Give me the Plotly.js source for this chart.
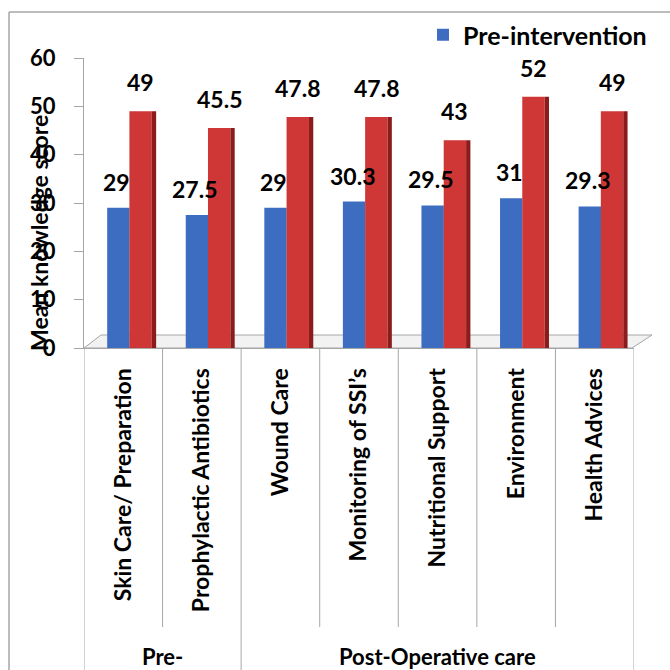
<!DOCTYPE html>
<html>
<head>
<meta charset="utf-8">
<script src="https://cdn.plot.ly/plotly-3.0.1.min.js"></script>
<style>
  html, body { margin: 0; padding: 0; background: #ffffff; }
  #chart { width: 670px; height: 670px; }
</style>
</head>
<body>
<div id="chart"></div>
<script>
// ---- data ----
const categories = ["Skin Care/ Preparation", "Prophylactic Antibiotics", "Wound Care",
  "Monitoring of SSI’s", "Nutritional Support", "Environment", "Health Advices"];
const groupLabels = ["Pre-", "Post-Operative care"];
const groupSpans = [[0, 1], [2, 6]];        // category index ranges of each group
const preValues = [29, 27.5, 29, 30.3, 29.5, 31, 29.3];
const postValues = [49, 45.5, 47.8, 47.8, 43, 52, 49];
const preName = "Pre-intervention";
const postName = "Post-intervention";
const yTickVals = [0, 10, 20, 30, 40, 50, 60];

// ---- layout geometry (pixels) ----
const W = 670, H = 670;
const L = 84, R = 36, T = 58, B = 322;
const plotW = W - L - R, plotH = H - T - B;
const px = x => (x - L) / plotW;           // pixel x -> paper
const py = y => (H - B - y) / plotH;       // pixel y -> paper
const catW = plotW / categories.length;

const FONT = "Lato, 'Open Sans', sans-serif";
const GRAY = "#a6a6a6";

const blueOff = -0.205, barW = 0.285, redOff = 0.078, sideW = 0.055;

const traces = [
  { type: "bar", name: preName, x: categories, y: preValues,
    offset: blueOff, width: barW,
    marker: { color: "#3c6dc0", line: { width: 0 } }, hoverinfo: "y" },
  { type: "bar", name: postName, x: categories, y: postValues,
    offset: redOff, width: barW, showlegend: false,
    marker: { color: "#cf3636", line: { width: 0 } }, hoverinfo: "y" },
  { type: "bar", name: postName + " side", x: categories, y: postValues,
    offset: redOff + barW, width: sideW, showlegend: false,
    marker: { color: "#8c1c1c", line: { width: 0 } }, hoverinfo: "skip" }
];

const annotations = [];
categories.forEach((c, i) => {
  annotations.push({ x: c, y: preValues[i], xref: "x", yref: "y", text: String(preValues[i]),
    showarrow: false, xshift: (blueOff + barW / 2) * catW - 2, yshift: 26, yanchor: "middle",
    font: { family: FONT, size: 23, color: "#000", weight: 700 } });
  annotations.push({ x: c, y: postValues[i], xref: "x", yref: "y", text: String(postValues[i]),
    showarrow: false, xshift: (redOff + barW / 2) * catW, yshift: 29, yanchor: "middle",
    font: { family: FONT, size: 23, color: "#000", weight: 700 } });
});
// group labels
groupLabels.forEach((g, k) => {
  const a = groupSpans[k][0] - 0.5, b = groupSpans[k][1] + 0.5;
  annotations.push({ x: (a + b) / 2, xref: "x", y: py(656), yref: "paper", text: g,
    showarrow: false, yanchor: "middle", xanchor: "center",
    font: { family: FONT, size: 22, color: "#000", weight: 700 } });
});
// y title (overlapping tick labels as in the original)
annotations.push({ x: px(39), y: py(233), xref: "paper", yref: "paper",
  text: "Mean knowledge score", textangle: -90, showarrow: false,
  xanchor: "center", yanchor: "middle",
  font: { family: FONT, size: 23, color: "#000", weight: 700 } });

const shapes = [];
// outer frame
shapes.push({ type: "line", xref: "paper", yref: "paper", x0: px(9), x1: px(9), y0: py(12), y1: py(700),
  line: { color: GRAY, width: 1.5 } });
shapes.push({ type: "line", xref: "paper", yref: "paper", x0: px(9), x1: px(700), y0: py(12), y1: py(12),
  line: { color: GRAY, width: 1.5 } });
// floor
shapes.push({ type: "path", xref: "paper", yref: "paper", layer: "below",
  path: `M${px(84)},${py(348)} L${px(632)},${py(348)} L${px(652)},${py(335)} L${px(101)},${py(335)} Z`,
  fillcolor: "#f2f2f2", line: { color: GRAY, width: 1 } });
// category dividers
const groupEdges = new Set();
groupSpans.forEach(s => { groupEdges.add(s[0] - 0.5); groupEdges.add(s[1] + 0.5); });
for (let i = 0; i <= categories.length; i++) {
  const xv = i - 0.5;
  shapes.push({ type: "line", xref: "x", yref: "paper", x0: xv, x1: xv,
    y0: 0, y1: groupEdges.has(xv) ? py(700) : py(627),
    line: { color: GRAY, width: 1 } });
}

const layout = {
  width: W, height: H,
  margin: { l: L, r: R, t: T, b: B, pad: 0 },
  paper_bgcolor: "#ffffff", plot_bgcolor: "rgba(0,0,0,0)",
  barmode: "overlay",
  showlegend: true,
  legend: { x: px(652), xanchor: "right", y: py(12), yanchor: "top",
    font: { family: FONT, size: 25, color: "#000", weight: 700 },
    bgcolor: "rgba(0,0,0,0)", itemwidth: 30 },
  xaxis: { type: "category", range: [-0.5, categories.length - 0.5],
    showline: true, linecolor: GRAY, linewidth: 1, ticks: "", showgrid: false,
    tickangle: -90, ticklabelstandoff: 10,
    tickfont: { family: FONT, size: 23, color: "#000", weight: 700 }, fixedrange: true },
  yaxis: { range: [0, 60], tickvals: yTickVals, ticktext: yTickVals.map(String),
    showline: true, linecolor: GRAY, linewidth: 1, ticks: "outside", ticklen: 9, tickcolor: GRAY,
    showgrid: false, zeroline: false, ticklabelstandoff: 14,
    tickfont: { family: FONT, size: 22, color: "#000", weight: 700 }, fixedrange: true },
  annotations: annotations,
  shapes: shapes,
  hovermode: false
};

Plotly.newPlot("chart", traces, layout, { displayModeBar: false, staticPlot: true });
</script>
</body>
</html>
